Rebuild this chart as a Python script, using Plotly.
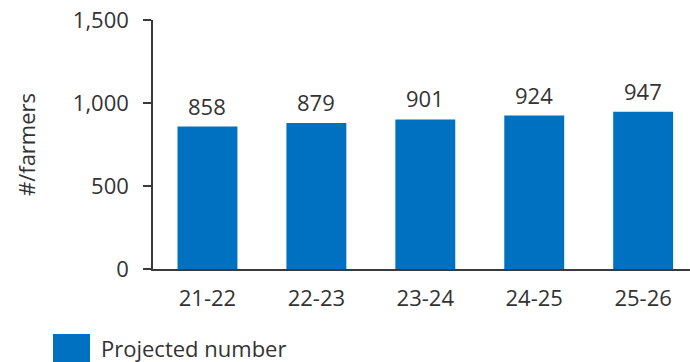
import plotly.graph_objects as go

# Projected farmer counts by season
seasons = ["21-22", "22-23", "23-24", "24-25", "25-26"]
farmers = [858, 879, 901, 924, 947]
series_name = "Projected number"
y_ticks = [0, 500, 1000, 1500]
y_tick_labels = ["0", "500", "1,000", "1,500"]

BLUE = "#0070C0"
TEXT = "#333333"
AXIS = "#3a3a3a"
FONT = "Open Sans"
FS = 22

fig = go.Figure()
fig.add_trace(go.Bar(
    x=list(range(len(seasons))),
    y=farmers,
    name=series_name,
    marker=dict(color=BLUE, line=dict(width=0)),
    width=0.55,
    showlegend=False,
))

# Value labels above each bar
for i, v in enumerate(farmers):
    fig.add_annotation(x=i, y=v, text=f"{v:,}", showarrow=False,
                       xanchor="center", yanchor="bottom", yshift=4,
                       font=dict(family=FONT, size=FS, color=TEXT))

# Legend swatch and label
fig.add_shape(type="rect", xref="paper", yref="paper",
              x0=(53 - 153) / 537, x1=(90 - 153) / 537,
              y0=(269 - 363) / 249, y1=(269 - 334) / 249,
              fillcolor=BLUE, line=dict(width=0))
fig.add_annotation(text=series_name, xref="paper", yref="paper",
                   x=(99 - 153) / 537, y=(269 - 348) / 249,
                   xanchor="left", yanchor="middle", showarrow=False,
                   font=dict(family=FONT, size=FS, color=TEXT))

fig.update_layout(
    width=690, height=362,
    margin=dict(l=153, r=0, t=20, b=93),
    paper_bgcolor="white", plot_bgcolor="white",
    font=dict(family=FONT, size=FS, color=TEXT),
    bargap=0.45,
    xaxis=dict(
        range=[-0.5, 4.43],
        tickvals=list(range(len(seasons))),
        ticktext=seasons,
        showgrid=False, zeroline=False,
        showline=True, linecolor=AXIS, linewidth=1.5,
        ticks="", ticklabelstandoff=9,
        tickfont=dict(family=FONT, size=FS, color=TEXT),
    ),
    yaxis=dict(
        range=[0, 1500],
        tickvals=y_ticks, ticktext=y_tick_labels,
        showgrid=False, zeroline=False,
        showline=True, linecolor=AXIS, linewidth=1.5,
        ticks="outside", ticklen=8, tickwidth=1.5, tickcolor=AXIS,
        ticklabelstandoff=10,
        tickfont=dict(family=FONT, size=FS, color=TEXT),
        title=dict(text="#/farmers", standoff=31,
                   font=dict(family=FONT, size=FS, color=TEXT)),
    ),
)

fig.write_html("out.html")
